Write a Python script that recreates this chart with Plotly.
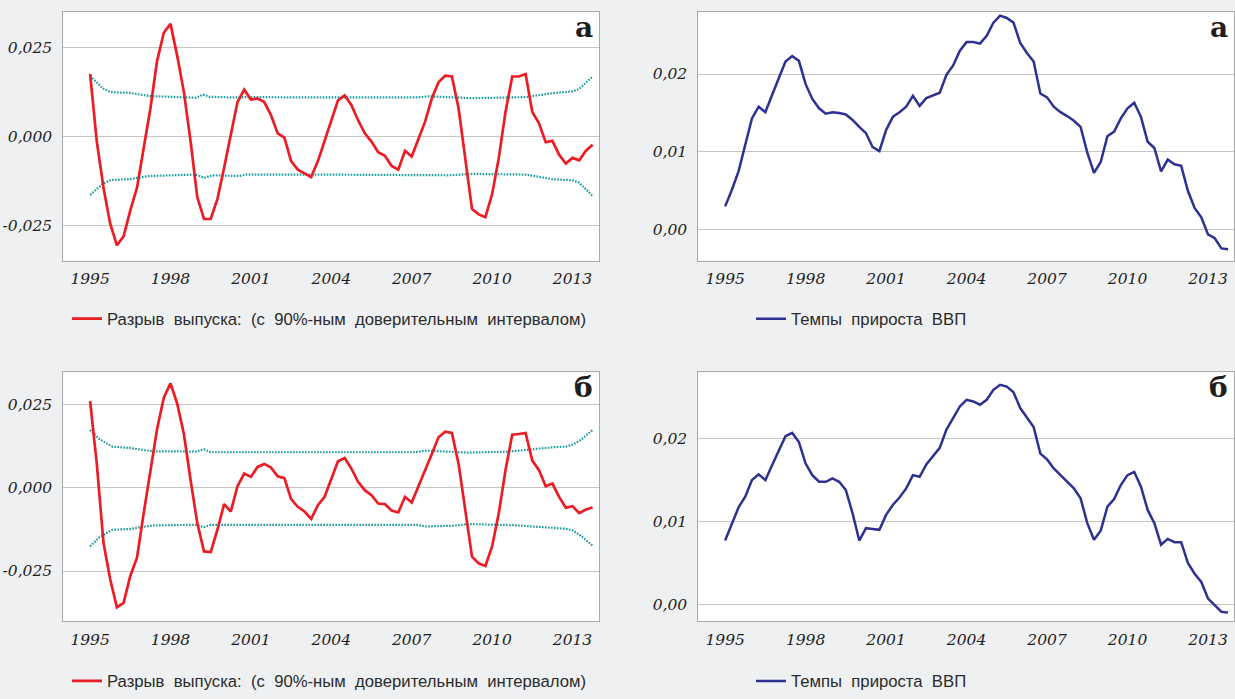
import numpy as np
import plotly.graph_objects as go

# ---------------- data ----------------
quarters = [1995.0 + 0.25 * i for i in range(76)]  # 1995Q1 .. 2013Q4

gap_a = [0.0176, -0.0014, -0.0144, -0.0245, -0.0306, -0.0281, -0.0208, -0.0144, -0.0032, 0.0079,
         0.0213, 0.0292, 0.0317, 0.0227, 0.0125, -0.0014, -0.0171, -0.0232, -0.0232, -0.0176,
         -0.0088, 0.0005, 0.0097, 0.0132, 0.0104, 0.0107, 0.0097, 0.0060, 0.0009, -0.0003,
         -0.0069, -0.0093, -0.0104, -0.0114, -0.0069, -0.0014, 0.0042, 0.0102, 0.0116, 0.0088,
         0.0046, 0.0009, -0.0014, -0.0044, -0.0054, -0.0083, -0.0093, -0.0040, -0.0056, -0.0005,
         0.0042, 0.0107, 0.0153, 0.0171, 0.0169, 0.0079, -0.0060, -0.0204, -0.0219, -0.0227,
         -0.0162, -0.0060, 0.0069, 0.0169, 0.0169, 0.0176, 0.0069, 0.0037, -0.0016, -0.0012,
         -0.0051, -0.0076, -0.0060, -0.0067, -0.0040, -0.0023]

band_a_up_x = [1995.0, 1995.46, 1995.77, 1996.46, 1997.2, 1998.94, 1999.22, 1999.44, 2000.31, 2000.81,
               2003.54, 2007.15, 2007.65, 2008.52, 2009.27, 2011.26, 2012.25, 2013.0, 2013.25, 2013.75]
band_a_up = [0.0171, 0.0136, 0.0125, 0.0123, 0.0114, 0.0109, 0.0118, 0.0112, 0.0110, 0.0111,
             0.0110, 0.0110, 0.0113, 0.0111, 0.0108, 0.0111, 0.0122, 0.0127, 0.0134, 0.0169]
band_a_lo_x = [1995.0, 1995.46, 1995.77, 1996.46, 1997.2, 1998.94, 1999.25, 1999.56, 2000.56, 2000.81,
               2003.54, 2007.4, 2008.4, 2009.27, 2011.26, 2012.25, 2013.0, 2013.25, 2013.75]
band_a_lo = [-0.0164, -0.0134, -0.0122, -0.0120, -0.0111, -0.0107, -0.0116, -0.0109, -0.0111, -0.0107,
             -0.0107, -0.0109, -0.0109, -0.0105, -0.0107, -0.0120, -0.0123, -0.0130, -0.0167]

growth_a = [0.0030, 0.0051, 0.0075, 0.0109, 0.0143, 0.0158, 0.0151, 0.0173, 0.0194, 0.0216,
            0.0223, 0.0217, 0.0187, 0.0168, 0.0156, 0.0149, 0.0151, 0.0150, 0.0148, 0.0141,
            0.0132, 0.0124, 0.0106, 0.0101, 0.0128, 0.0145, 0.0151, 0.0158, 0.0172, 0.0159,
            0.0169, 0.0173, 0.0176, 0.0199, 0.0211, 0.0230, 0.0241, 0.0241, 0.0239, 0.0249,
            0.0266, 0.0275, 0.0272, 0.0266, 0.0240, 0.0227, 0.0216, 0.0175, 0.0170, 0.0158,
            0.0151, 0.0146, 0.0140, 0.0132, 0.0099, 0.0073, 0.0087, 0.0120, 0.0126, 0.0143,
            0.0156, 0.0163, 0.0145, 0.0113, 0.0105, 0.0075, 0.0090, 0.0084, 0.0082, 0.0050,
            0.0028, 0.0016, -0.0006, -0.0011, -0.0024, -0.0025]

gap_b = [0.0261, 0.0072, -0.0166, -0.0275, -0.0359, -0.0346, -0.0265, -0.0210, -0.0076, 0.0053,
         0.0177, 0.0271, 0.0314, 0.0253, 0.0162, 0.0023, -0.0106, -0.0191, -0.0193, -0.0126,
         -0.0049, -0.0071, 0.0005, 0.0043, 0.0033, 0.0063, 0.0072, 0.0061, 0.0035, 0.0029,
         -0.0034, -0.0057, -0.0071, -0.0093, -0.0052, -0.0027, 0.0028, 0.0080, 0.0090, 0.0058,
         0.0018, -0.0007, -0.0022, -0.0047, -0.0049, -0.0068, -0.0074, -0.0027, -0.0044, 0.0003,
         0.0051, 0.0102, 0.0152, 0.0169, 0.0165, 0.0072, -0.0067, -0.0207, -0.0227, -0.0235,
         -0.0176, -0.0076, 0.0053, 0.0160, 0.0162, 0.0165, 0.0082, 0.0053, 0.0005, 0.0013,
         -0.0027, -0.0060, -0.0055, -0.0076, -0.0065, -0.0059]

band_b_up_x = [1995.0, 1995.34, 1995.83, 1996.46, 1997.33, 1998.94, 1999.25, 1999.5, 2003.54, 2007.15,
               2007.52, 2008.52, 2009.14, 2010.63, 2011.51, 2012.25, 2012.75, 2013.0, 2013.31, 2013.75]
band_b_up = [0.0174, 0.0147, 0.0124, 0.0120, 0.0110, 0.0109, 0.0116, 0.0107, 0.0107, 0.0107,
             0.0112, 0.0109, 0.0106, 0.0109, 0.0117, 0.0122, 0.0124, 0.0130, 0.0144, 0.0174]
band_b_lo_x = [1995.0, 1995.34, 1995.83, 1996.46, 1997.33, 1998.94, 1999.25, 1999.5, 2003.54, 2007.15,
               2007.52, 2008.52, 2009.14, 2010.76, 2011.51, 2012.25, 2012.75, 2013.0, 2013.31, 2013.75]
band_b_lo = [-0.0176, -0.0149, -0.0126, -0.0124, -0.0113, -0.0111, -0.0118, -0.0111, -0.0111, -0.0111,
             -0.0116, -0.0114, -0.0109, -0.0112, -0.0116, -0.0121, -0.0123, -0.0128, -0.0144, -0.0174]

growth_b = [0.0077, 0.0096, 0.0117, 0.0130, 0.0150, 0.0157, 0.0150, 0.0168, 0.0185, 0.0203,
            0.0207, 0.0196, 0.0170, 0.0156, 0.0148, 0.0148, 0.0152, 0.0148, 0.0138, 0.0110,
            0.0077, 0.0092, 0.0091, 0.0090, 0.0108, 0.0120, 0.0129, 0.0140, 0.0156, 0.0154,
            0.0169, 0.0179, 0.0189, 0.0211, 0.0225, 0.0239, 0.0247, 0.0245, 0.0241, 0.0247,
            0.0259, 0.0265, 0.0263, 0.0256, 0.0237, 0.0225, 0.0214, 0.0182, 0.0175, 0.0164,
            0.0156, 0.0148, 0.0140, 0.0128, 0.0098, 0.0078, 0.0089, 0.0118, 0.0127, 0.0144,
            0.0156, 0.0160, 0.0142, 0.0114, 0.0098, 0.0072, 0.0079, 0.0075, 0.0075, 0.0050,
            0.0037, 0.0027, 0.0007, -0.0001, -0.0009, -0.0010]

year_ticks = [1995, 1998, 2001, 2004, 2007, 2010, 2013]
gap_tickvals = [-0.025, 0.0, 0.025]
gap_ticktext = ["-0,025", "0,000", "0,025"]
growth_tickvals = [0.0, 0.01, 0.02]
growth_ticktext = ["0,00", "0,01", "0,02"]

gap_name = "Разрыв \u00a0выпуска: \u00a0(с \u00a090%-ным \u00a0доверительным \u00a0интервалом)"
growth_name = "Темпы \u00a0прироста \u00a0ВВП"
panel_labels = ["а", "а", "б", "б"]

# ---------------- style ----------------
W, H = 1235, 699
BG = "#eff0f2"
RED = "#ec1c24"
NAVY = "#2e3192"
TEAL = "#1a9c9c"
GRID = "#c6c6c6"
FRAME = "#a9a9a9"

def px_dom(a, b, total):
    return [a / total, b / total]

xdom_left = px_dom(63.3, 599.3, W)
xdom_right = px_dom(698.3, 1233.5, W)
ydom_top = [1 - 264 / H, 1 - 12.3 / H]
ydom_bot = [1 - 629 / H, 1 - 377.3 / H]

fig = go.Figure()

def add_gap(xa, ya, vals, upx, up, lox, lo, legend):
    fig.add_trace(go.Scatter(x=upx, y=up, mode="lines", xaxis=xa, yaxis=ya,
                             line=dict(color=TEAL, width=2.2, dash="1.6px,1.4px"),
                             showlegend=False, hoverinfo="skip"))
    fig.add_trace(go.Scatter(x=lox, y=lo, mode="lines", xaxis=xa, yaxis=ya,
                             line=dict(color=TEAL, width=2.2, dash="1.6px,1.4px"),
                             showlegend=False, hoverinfo="skip"))
    fig.add_trace(go.Scatter(x=quarters, y=vals, mode="lines", xaxis=xa, yaxis=ya,
                             line=dict(color=RED, width=2.7), name=gap_name,
                             legend=legend, showlegend=True))

def add_growth(xa, ya, vals, legend):
    fig.add_trace(go.Scatter(x=quarters, y=vals, mode="lines", xaxis=xa, yaxis=ya,
                             line=dict(color=NAVY, width=2.5), name=growth_name,
                             legend=legend, showlegend=True))

add_gap("x", "y", gap_a, band_a_up_x, band_a_up, band_a_lo_x, band_a_lo, "legend")
add_growth("x2", "y2", growth_a, "legend3")
add_gap("x3", "y3", gap_b, band_b_up_x, band_b_up, band_b_lo_x, band_b_lo, "legend2")
add_growth("x4", "y4", growth_b, "legend4")

tickfont = dict(family="DejaVu Serif", size=15.5, color="#1e1e1e", style="italic")

def xax(dom, anchor, rng):
    return dict(domain=dom, anchor=anchor, range=rng, tickvals=year_ticks,
                showgrid=False, zeroline=False, showline=True, mirror=True,
                linecolor=FRAME, linewidth=1, ticks="", tickfont=tickfont,
                ticklabelstandoff=4, fixedrange=True)

def yax(dom, anchor, rng, tv, tt):
    return dict(domain=dom, anchor=anchor, range=rng, tickvals=tv, ticktext=tt,
                showgrid=True, gridcolor=GRID, gridwidth=1, zeroline=False,
                showline=True, mirror=True, linecolor=FRAME, linewidth=1,
                ticks="", tickfont=tickfont, ticklabelstandoff=7, fixedrange=True)

legfont = dict(family="Liberation Sans", size=16.7, color="#2b2b2b")

def leg(x, y):
    return dict(x=x, y=y, xanchor="left", yanchor="middle", xref="paper", yref="paper",
                bgcolor="rgba(0,0,0,0)", borderwidth=0, font=legfont,
                itemwidth=30, orientation="h")

fig.update_layout(
    width=W, height=H,
    margin=dict(l=0, r=0, t=0, b=0),
    paper_bgcolor=BG, plot_bgcolor="white",
    xaxis=xax(xdom_left, "y", [1994.0, 2014.0]),
    yaxis=yax(ydom_top, "x", [-0.0349, 0.035], gap_tickvals, gap_ticktext),
    xaxis2=xax(xdom_right, "y2", [1994.0, 2013.95]),
    yaxis2=yax(ydom_top, "x2", [-0.00397, 0.02795], growth_tickvals, growth_ticktext),
    xaxis3=xax(xdom_left, "y3", [1994.0, 2014.0]),
    yaxis3=yax(ydom_bot, "x3", [-0.040, 0.0347], gap_tickvals, gap_ticktext),
    xaxis4=xax(xdom_right, "y4", [1994.0, 2013.95]),
    yaxis4=yax(ydom_bot, "x4", [-0.002, 0.028], growth_tickvals, growth_ticktext),
    legend=leg(67 / W, 1 - 323 / H),
    legend2=leg(67 / W, 1 - 690 / H),
    legend3=leg(751 / W, 1 - 323 / H),
    legend4=leg(751 / W, 1 - 690 / H),
    showlegend=True,
)

axes_pairs = [("x", "y"), ("x2", "y2"), ("x3", "y3"), ("x4", "y4")]
for (xa, ya), lab in zip(axes_pairs, panel_labels):
    fig.add_annotation(text=lab, xref=xa + " domain", yref=ya + " domain", x=1, y=1,
                       xanchor="right", yanchor="top", xshift=-4, yshift=3,
                       showarrow=False,
                       font=dict(family="DejaVu Serif", size=28, color="#1e1e1e", weight="bold"))

fig.write_html(
    "out.html",
    config={"displayModeBar": False},
    post_script="document.body.style.margin='0';document.body.style.padding='0';"
                "document.body.style.background='#eff0f2';"
                "document.documentElement.style.overflow='hidden';",
)
